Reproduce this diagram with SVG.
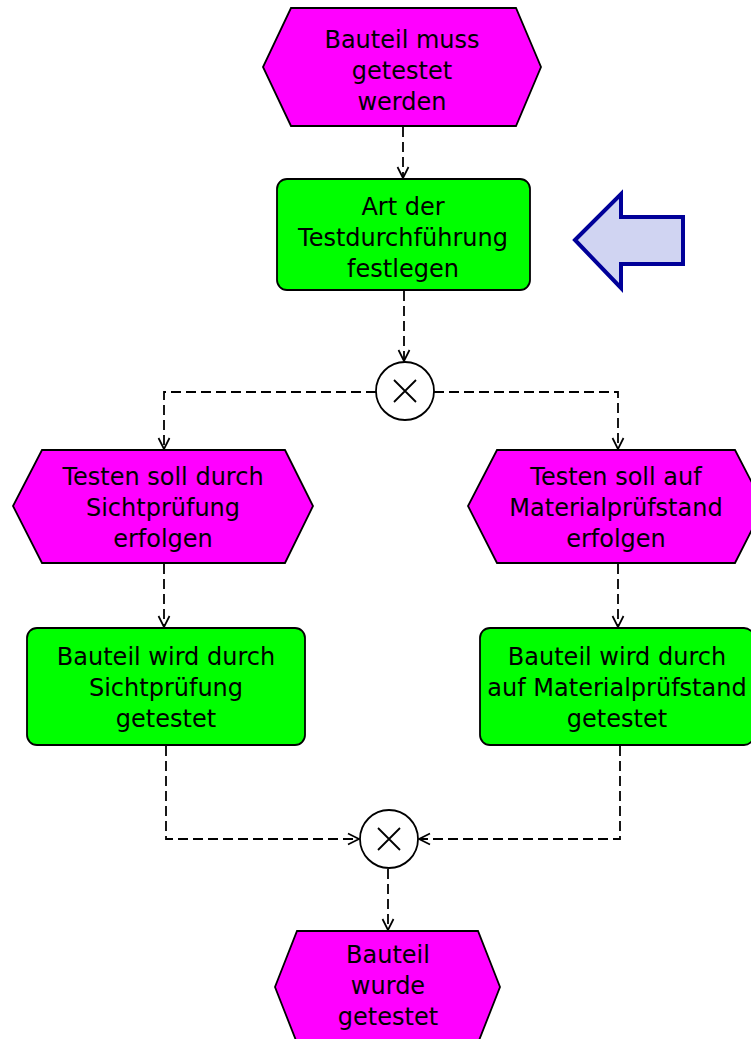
<svg xmlns="http://www.w3.org/2000/svg" width="751" height="1039" viewBox="0 0 751 1039">
<style>
.ev{fill:#FF00FF;stroke:#000;stroke-width:1.8}
.fn{fill:#00FF00;stroke:#000;stroke-width:1.8}
.gw{fill:#fff;stroke:#000;stroke-width:1.8}
.x{stroke:#000;stroke-width:1.8;fill:none}
.t{font-family:'DejaVu Sans',sans-serif;font-size:24px;fill:#000;text-anchor:middle}
.c{fill:none;stroke:#000;stroke-width:1.8;stroke-dasharray:10 5}
</style>
<defs>
<marker id="ah" markerUnits="userSpaceOnUse" markerWidth="16" markerHeight="16" refX="12" refY="7" orient="auto">
<path d="M1,1.5 L12,7 L1,12.5" fill="none" stroke="#000" stroke-width="1.7"/>
</marker>
</defs>
<g id="connectors">
<path class="c" d="M403,127 L403,178" marker-end="url(#ah)"/>
<path class="c" d="M404,291 L404,361" marker-end="url(#ah)"/>
<path class="c" d="M376,392 L164,392 L164,449" marker-end="url(#ah)"/>
<path class="c" d="M434,392 L618,392 L618,449" marker-end="url(#ah)"/>
<path class="c" d="M164,564 L164,627" marker-end="url(#ah)"/>
<path class="c" d="M618,564 L618,627" marker-end="url(#ah)"/>
<path class="c" d="M166,746 L166,839 L359,839" marker-end="url(#ah)"/>
<path class="c" d="M620,746 L620,839 L419,839" marker-end="url(#ah)"/>
<path class="c" d="M388,869 L388,930" marker-end="url(#ah)"/>
</g>
<g id="e1">
<polygon class="ev" points="291,8 516,8 541,67 516,126 291,126 263,67"/>
<text class="t" x="402" y="48">Bauteil muss</text>
<text class="t" x="402" y="79">getestet</text>
<text class="t" x="402" y="110">werden</text>
</g>
<g id="f1">
<rect class="fn" x="277" y="179" width="253" height="111" rx="10"/>
<text class="t" x="403" y="215">Art der</text>
<text class="t" x="403" y="246">Testdurchführung</text>
<text class="t" x="403" y="277">festlegen</text>
</g>
<g id="marker-arrow">
<polygon points="575,240 621,194 621,217 683,217 683,264 621,264 621,288" fill="#D0D4F2" stroke="#000099" stroke-width="4" stroke-linejoin="miter"/>
</g>
<g id="xor1">
<circle class="gw" cx="405" cy="391" r="29"/>
<path class="x" d="M394,380 L416,402 M416,380 L394,402"/>
</g>
<g id="e2">
<polygon class="ev" points="42,450 285,450 313,506 285,563 42,563 13,506"/>
<text class="t" x="163" y="485">Testen soll durch</text>
<text class="t" x="163" y="516">Sichtprüfung</text>
<text class="t" x="163" y="547">erfolgen</text>
</g>
<g id="e3">
<polygon class="ev" points="497,450 735,450 764,506 735,563 497,563 468,506"/>
<text class="t" x="616" y="485">Testen soll auf</text>
<text class="t" x="616" y="516">Materialprüfstand</text>
<text class="t" x="616" y="547">erfolgen</text>
</g>
<g id="f2">
<rect class="fn" x="27" y="628" width="278" height="117" rx="10"/>
<text class="t" x="166" y="665">Bauteil wird durch</text>
<text class="t" x="166" y="696">Sichtprüfung</text>
<text class="t" x="166" y="727">getestet</text>
</g>
<g id="f3">
<rect class="fn" x="480" y="628" width="274" height="117" rx="10"/>
<text class="t" x="617" y="665">Bauteil wird durch</text>
<text class="t" x="617" y="696">auf Materialprüfstand</text>
<text class="t" x="617" y="727">getestet</text>
</g>
<g id="xor2">
<circle class="gw" cx="389" cy="839" r="29"/>
<path class="x" d="M378,828 L400,850 M400,828 L378,850"/>
</g>
<g id="e4">
<polygon class="ev" points="297,931 478,931 500,987 478,1043 297,1043 275,987"/>
<text class="t" x="388" y="963">Bauteil</text>
<text class="t" x="388" y="994">wurde</text>
<text class="t" x="388" y="1025">getestet</text>
</g>
</svg>
